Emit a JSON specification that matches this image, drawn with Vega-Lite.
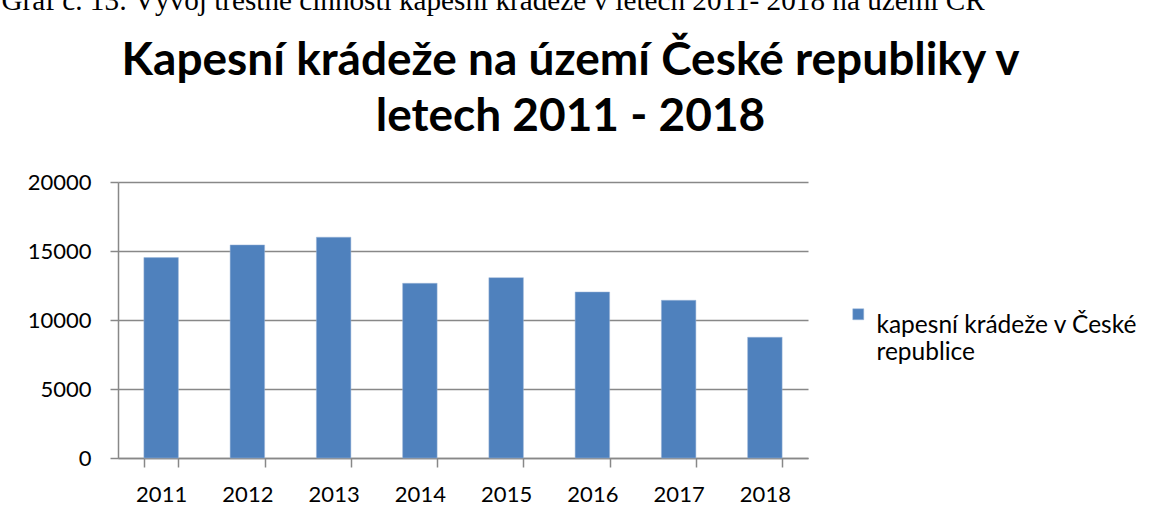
{
  "$schema": "https://vega.github.io/schema/vega-lite/v6.json",
  "width": 690,
  "height": 276,
  "autosize": {"type": "none"},
  "padding": {"left": 118, "top": 182, "right": 341, "bottom": 61},
  "background": "white",
  "data": {
    "values": [
      {"rok": "2011", "pocet": 14520, "serie": "kapesní krádeže v České republice"},
      {"rok": "2012", "pocet": 15440, "serie": "kapesní krádeže v České republice"},
      {"rok": "2013", "pocet": 16000, "serie": "kapesní krádeže v České republice"},
      {"rok": "2014", "pocet": 12660, "serie": "kapesní krádeže v České republice"},
      {"rok": "2015", "pocet": 13070, "serie": "kapesní krádeže v České republice"},
      {"rok": "2016", "pocet": 12030, "serie": "kapesní krádeže v České republice"},
      {"rok": "2017", "pocet": 11430, "serie": "kapesní krádeže v České republice"},
      {"rok": "2018", "pocet": 8750, "serie": "kapesní krádeže v České republice"}
    ]
  },
  "mark": {"type": "bar"},
  "encoding": {
    "x": {
      "field": "rok",
      "type": "ordinal",
      "scale": {"paddingInner": 0.6, "paddingOuter": 0.3},
      "axis": {
        "title": ["Kapesní krádeže na území České republiky v", "letech 2011 - 2018"],
        "titleAngle": 0,
        "titleAlign": "center",
        "titleBaseline": "alphabetic",
        "titleX": 452,
        "titleY": -384,
        "titleFont": "Lato",
        "titleFontWeight": "bold",
        "titleFontSize": 46,
        "titleLineHeight": 56,
        "titleColor": "#000000",
        "labelAngle": 0,
        "labelFont": "Lato",
        "labelFontSize": 22,
        "labelColor": "#000000",
        "labelPadding": 17,
        "tickBand": "extent",
        "tickSize": 9,
        "tickColor": "#888888",
        "tickWidth": 1.5,
        "domainColor": "#888888",
        "domainWidth": 1.5,
        "grid": false
      }
    },
    "y": {
      "field": "pocet",
      "type": "quantitative",
      "scale": {"domain": [0, 20000], "nice": false},
      "axis": {
        "values": [0, 5000, 10000, 15000, 20000],
        "format": "d",
        "title": "Graf č. 13: Vývoj trestné činnosti kapesní krádeže v letech 2011- 2018 na území ČR",
        "titleAngle": 0,
        "titleAlign": "left",
        "titleBaseline": "alphabetic",
        "titleX": -117,
        "titleY": -173,
        "titleFont": "Liberation Serif",
        "titleFontSize": 29.2,
        "titleFontWeight": "normal",
        "titleColor": "#000000",
        "labelFont": "Lato",
        "labelFontSize": 22,
        "labelColor": "#000000",
        "labelPadding": 19,
        "tickSize": 8,
        "tickColor": "#888888",
        "tickWidth": 1.5,
        "domainColor": "#888888",
        "domainWidth": 1.5,
        "grid": true,
        "gridColor": "#888888",
        "gridWidth": 1.5
      }
    },
    "color": {
      "field": "serie",
      "type": "nominal",
      "scale": {"range": ["#4F81BD"]},
      "legend": {
        "title": null,
        "orient": "none",
        "legendX": 728,
        "legendY": 120,
        "symbolType": "square",
        "symbolSize": 121,
        "symbolStrokeWidth": 0,
        "labelFont": "Lato",
        "labelFontSize": 24.5,
        "labelColor": "#000000",
        "labelLimit": 400,
        "labelOffset": 6,
        "labelExpr": "['kapesní krádeže v České', 'republice']",
        "labelBaseline": "top"
      }
    }
  },
  "config": {
    "view": {"stroke": null},
    "bar": {"stroke": "#9DB7D8", "strokeWidth": 0.5}
  }
}
